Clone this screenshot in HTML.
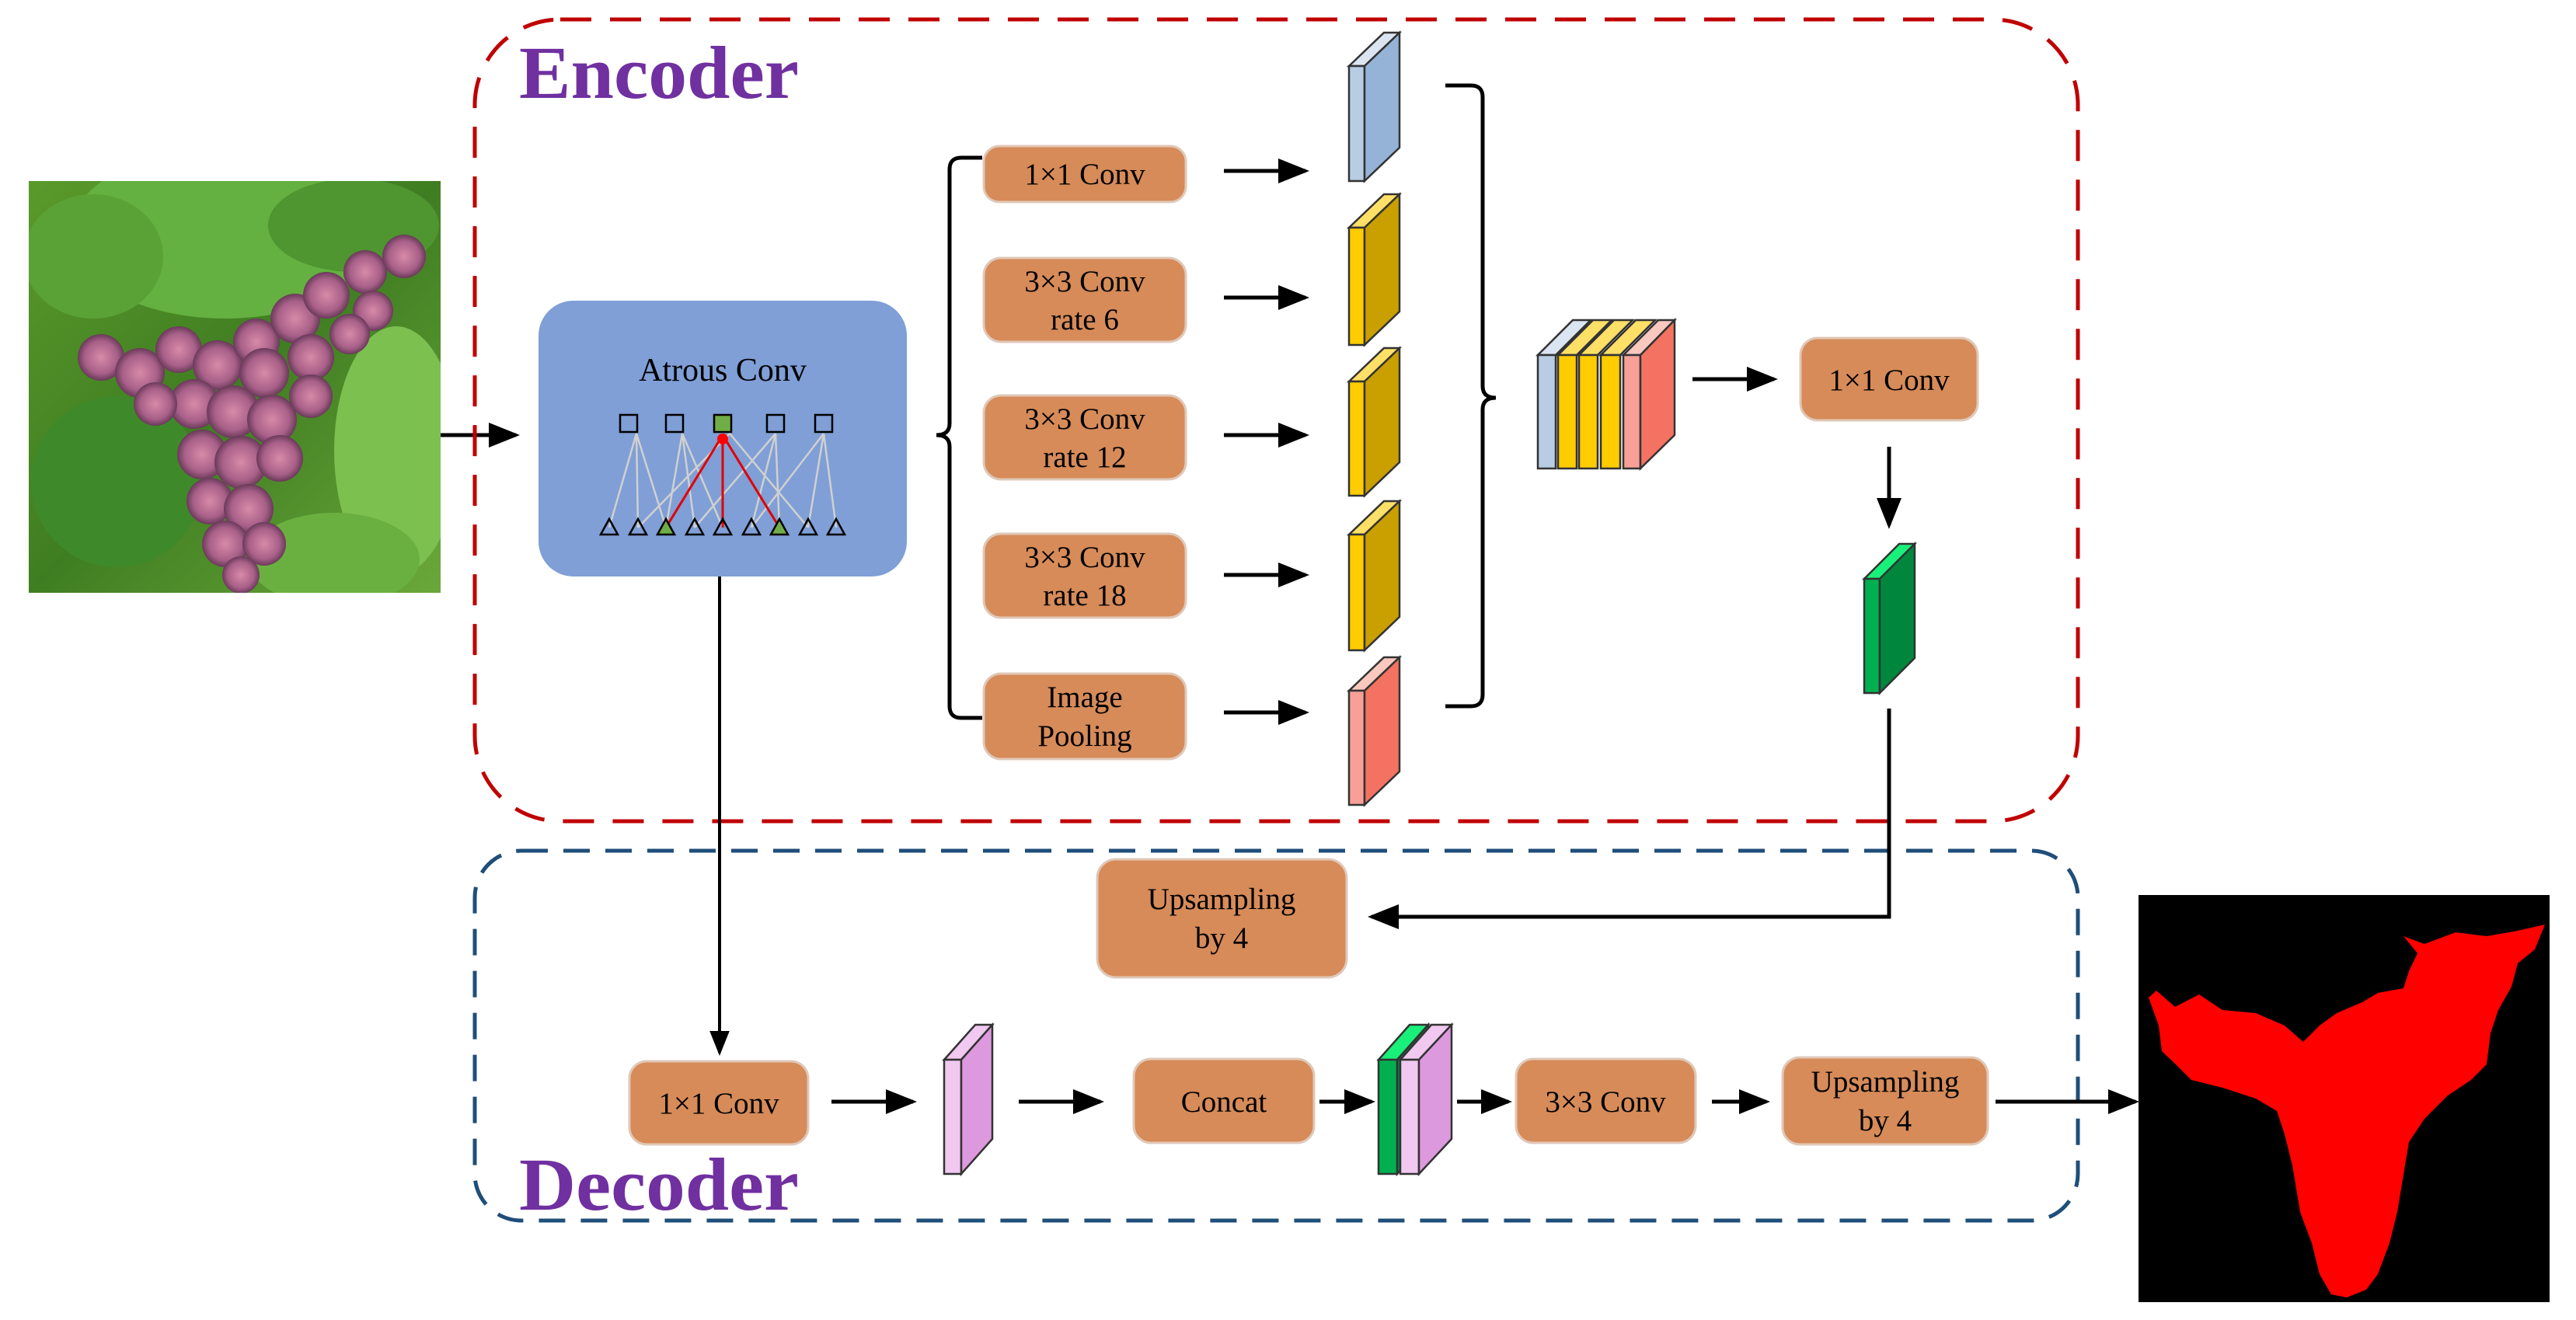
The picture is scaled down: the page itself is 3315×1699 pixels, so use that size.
<!DOCTYPE html>
<html><head><meta charset="utf-8"><style>html,body{margin:0;padding:0;background:#fff}svg{display:block}</style></head><body>
<svg width="3315" height="1699" viewBox="0 0 3315 1699" xmlns="http://www.w3.org/2000/svg" font-family="'Liberation Serif', serif">
<defs>
<marker id="ah" markerWidth="8" markerHeight="8" refX="7" refY="4" orient="auto" markerUnits="strokeWidth"><path d="M0,0.8 L8,4 L0,7.2 Z" fill="#000"/></marker>
<linearGradient id="bg" x1="0" y1="0" x2="1" y2="1"><stop offset="0" stop-color="#5a9a2a"/><stop offset="0.5" stop-color="#3f7d22"/><stop offset="1" stop-color="#6aa83a"/></linearGradient>
<radialGradient id="gr"><stop offset="0" stop-color="#d88aa8"/><stop offset="0.7" stop-color="#a86088"/><stop offset="1" stop-color="#6a3a5a"/></radialGradient>
<clipPath id="cp"><rect x="37" y="233" width="530" height="530"/></clipPath>
</defs>
<!-- input image -->
<g clip-path="url(#cp)">
<rect x="37" y="233" width="530" height="530" fill="url(#bg)"/>
<ellipse cx="290" cy="300" rx="200" ry="110" fill="#64b040"/>
<ellipse cx="120" cy="330" rx="90" ry="80" fill="#5ba236"/>
<ellipse cx="150" cy="620" rx="110" ry="110" fill="#3e8a2a"/>
<ellipse cx="510" cy="580" rx="80" ry="160" fill="#7cc050"/>
<ellipse cx="430" cy="720" rx="110" ry="60" fill="#6ab040"/>
<ellipse cx="455" cy="290" rx="110" ry="60" fill="#4f9530"/>
<g fill="url(#gr)">
<circle cx="130" cy="460" r="30"/><circle cx="180" cy="480" r="32"/><circle cx="230" cy="450" r="30"/><circle cx="280" cy="470" r="32"/>
<circle cx="330" cy="440" r="30"/><circle cx="380" cy="410" r="32"/><circle cx="420" cy="380" r="30"/><circle cx="470" cy="350" r="28"/><circle cx="520" cy="330" r="28"/>
<circle cx="340" cy="480" r="32"/><circle cx="400" cy="460" r="30"/><circle cx="250" cy="520" r="32"/><circle cx="300" cy="530" r="34"/><circle cx="350" cy="540" r="32"/>
<circle cx="400" cy="510" r="28"/><circle cx="260" cy="585" r="32"/><circle cx="310" cy="595" r="34"/><circle cx="360" cy="590" r="30"/>
<circle cx="270" cy="645" r="30"/><circle cx="320" cy="655" r="32"/><circle cx="290" cy="700" r="30"/><circle cx="340" cy="700" r="28"/><circle cx="310" cy="740" r="24"/>
<circle cx="480" cy="400" r="26"/><circle cx="450" cy="430" r="26"/><circle cx="200" cy="520" r="28"/>
</g>
</g>
<path d="M567,560 H664" stroke="#000" stroke-width="5" marker-end="url(#ah)"/>
<!-- encoder / decoder frames -->
<rect x="611" y="25" width="2063" height="1032" rx="110" fill="none" stroke="#c00000" stroke-width="5" stroke-dasharray="40 24"/>
<rect x="611" y="1095" width="2063" height="476" rx="60" fill="none" stroke="#1f4e79" stroke-width="5" stroke-dasharray="34 20"/>
<text x="668" y="126" font-size="96" font-weight="bold" fill="#7030a0" textLength="360" lengthAdjust="spacingAndGlyphs">Encoder</text>
<text x="668" y="1557" font-size="96" font-weight="bold" fill="#7030a0" textLength="360" lengthAdjust="spacingAndGlyphs">Decoder</text>
<!-- atrous -->
<rect x="693" y="387" width="474" height="355" rx="45" fill="#7f9fd6"/>
<text x="930" y="490" font-size="42" text-anchor="middle">Atrous Conv</text>
<g stroke="#d0d0d0" stroke-width="2.5">
<path d="M784,679 L819,558 M821,679 L819,558 M857,679 L878,558 M894,679 L878,558 M930,679 L878,558 M967,679 L998,558 M894,679 L998,558 M1003,679 L998,558 M1040,679 L1060,558 M1076,679 L1060,558 M967,679 L1060,558 M821,679 L939,558 M1040,679 L939,558 M857,679 L819,558"/>
</g>
<g stroke="#e00000" stroke-width="3"><path d="M857,679 L930,560 M930,679 L930,560 M1003,679 L930,560"/></g>
<circle cx="930" cy="565" r="7" fill="red"/>
<g fill="none" stroke="#000" stroke-width="2.5">
<rect x="798" y="534" width="22" height="22"/><rect x="857" y="534" width="22" height="22"/><rect x="987" y="534" width="22" height="22"/><rect x="1049" y="534" width="22" height="22"/>
</g>
<rect x="919" y="534" width="22" height="22" fill="#70ad47" stroke="#000" stroke-width="2.5"/>
<g stroke="#000" stroke-width="2.5" fill="none">
<path d="M784,668 l-11,20 h22z M821,668 l-11,20 h22z M894,668 l-11,20 h22z M930,668 l-11,20 h22z M967,668 l-11,20 h22z M1040,668 l-11,20 h22z M1076,668 l-11,20 h22z"/>
<path d="M857,668 l-11,20 h22z M1003,668 l-11,20 h22z" fill="#70ad47"/>
</g>
<!-- brace left -->
<path d="M1264,203 H1237 Q1222,203 1222,218 V545 Q1222,560 1205,560 Q1222,560 1222,575 V909 Q1222,924 1237,924 H1264" fill="none" stroke="#000" stroke-width="5"/>
<!-- orange boxes -->
<g fill="#d68b59" stroke="#e0c8b8" stroke-width="3">
<rect x="1266" y="188" width="260" height="72" rx="20"/>
<rect x="1266" y="332" width="260" height="108" rx="22"/>
<rect x="1266" y="509" width="260" height="108" rx="22"/>
<rect x="1266" y="687" width="260" height="108" rx="22"/>
<rect x="1266" y="867" width="260" height="110" rx="22"/>
<rect x="2317" y="435" width="228" height="106" rx="22"/>
<rect x="1412" y="1106" width="321" height="152" rx="24"/>
<rect x="810" y="1366" width="230" height="107" rx="22"/>
<rect x="1459" y="1363" width="232" height="108" rx="22"/>
<rect x="1951" y="1363" width="231" height="108" rx="22"/>
<rect x="2294" y="1361" width="264" height="112" rx="22"/>
</g>
<g font-size="39" text-anchor="middle" fill="#000">
<text x="1396" y="237">1×1 Conv</text>
<text x="1396" y="375">3×3 Conv</text><text x="1396" y="424">rate 6</text>
<text x="1396" y="552">3×3 Conv</text><text x="1396" y="601">rate 12</text>
<text x="1396" y="730">3×3 Conv</text><text x="1396" y="779">rate 18</text>
<text x="1396" y="910">Image</text><text x="1396" y="960">Pooling</text>
<text x="2431" y="502">1×1 Conv</text>
<text x="1572" y="1170">Upsampling</text><text x="1572" y="1220">by 4</text>
<text x="925" y="1433">1×1 Conv</text>
<text x="1575" y="1431">Concat</text>
<text x="2066" y="1431">3×3 Conv</text>
<text x="2426" y="1405">Upsampling</text><text x="2426" y="1455">by 4</text>
</g>
<!-- arrows -->
<g stroke="#000" stroke-width="5" fill="none" marker-end="url(#ah)">
<path d="M1575,220 H1680"/><path d="M1575,383 H1680"/><path d="M1575,560 H1680"/><path d="M1575,740 H1680"/><path d="M1575,917 H1680"/>
<path d="M2178,488 H2283"/><path d="M2431,575 V676"/>
<path d="M2431,912 V1180 H1765"/>
<path d="M926,742 V1355" stroke-width="4"/>
<path d="M1070,1418 H1175"/><path d="M1311,1418 H1416"/><path d="M1698,1418 H1765"/><path d="M1875,1418 H1941"/><path d="M2203,1418 H2273"/><path d="M2568,1418 H2748"/>
</g>
<!-- feature blocks -->
<g stroke="#333" stroke-width="2.5">
<polygon points="1736,85 1781,42 1801,42 1756,85" fill="#dbe5f1"/><rect x="1736" y="85" width="20" height="148" fill="#b8cce4"/><polygon points="1756,85 1801,42 1801,190 1756,233" fill="#95b3d7"/>
<polygon points="1736,293 1781,250 1801,250 1756,293" fill="#ffe066"/><rect x="1736" y="293" width="20" height="151" fill="#ffcc00"/><polygon points="1756,293 1801,250 1801,401 1756,444" fill="#c9a000"/>
<polygon points="1736,491 1781,448 1801,448 1756,491" fill="#ffe066"/><rect x="1736" y="491" width="20" height="147" fill="#ffcc00"/><polygon points="1756,491 1801,448 1801,595 1756,638" fill="#c9a000"/>
<polygon points="1736,688 1781,645 1801,645 1756,688" fill="#ffe066"/><rect x="1736" y="688" width="20" height="149" fill="#ffcc00"/><polygon points="1756,688 1801,645 1801,794 1756,837" fill="#c9a000"/>
<polygon points="1736,889 1781,846 1801,846 1756,889" fill="#fbc8c0"/><rect x="1736" y="889" width="20" height="147" fill="#f8a097"/><polygon points="1756,889 1801,846 1801,993 1756,1036" fill="#f47261"/>
<polygon points="1979,457 2024,412 2047,412 2002,457" fill="#dbe5f1"/><rect x="1979" y="457" width="23" height="146" fill="#b8cce4"/>
<polygon points="2005,457 2050,412 2074,412 2029,457" fill="#ffe066"/><rect x="2005" y="457" width="24" height="146" fill="#ffcc00"/>
<polygon points="2032,457 2077,412 2101,412 2056,457" fill="#ffe066"/><rect x="2032" y="457" width="24" height="146" fill="#ffcc00"/>
<polygon points="2060,457 2105,412 2130,412 2085,457" fill="#ffe066"/><rect x="2060" y="457" width="25" height="146" fill="#ffcc00"/>
<polygon points="2089,457 2134,412 2155,412 2111,457" fill="#fbc8c0"/><rect x="2089" y="457" width="22" height="146" fill="#f8a097"/>
<polygon points="2111,457 2155,412 2155,560 2111,603" fill="#f47261"/>
<polygon points="2399,745 2444,700 2464,700 2419,745" fill="#19f07a"/><rect x="2399" y="745" width="20" height="147" fill="#00b050"/><polygon points="2419,745 2464,700 2464,847 2419,892" fill="#00873d"/>
<polygon points="1215,1364 1255,1319 1277,1319 1237,1364" fill="#f0c8f0"/><rect x="1215" y="1364" width="22" height="147" fill="#f0c8f0"/><polygon points="1237,1364 1277,1319 1277,1466 1237,1511" fill="#dd99dd"/>
<polygon points="1774,1364 1814,1319 1838,1319 1798,1364" fill="#19f07a"/><rect x="1774" y="1364" width="24" height="147" fill="#00b050"/><polygon points="1798,1364 1838,1319 1838,1466 1798,1511" fill="#00873d"/>
<polygon points="1802,1364 1842,1319 1868,1319 1826,1364" fill="#f0c8f0"/><rect x="1802" y="1364" width="24" height="147" fill="#f0c8f0"/><polygon points="1826,1364 1868,1319 1868,1466 1826,1511" fill="#dd99dd"/>
</g>
<!-- brace right -->
<path d="M1860,110 H1893 Q1908,110 1908,125 V497 Q1908,512 1925,512 Q1908,512 1908,527 V894 Q1908,909 1893,909 H1860" fill="none" stroke="#000" stroke-width="5"/>
<!-- output mask -->
<rect x="2752" y="1152" width="529" height="524" fill="#000"/>
<polygon fill="#ff0000" points="3275,1190 3262,1222 3240,1240 3232,1270 3215,1300 3205,1330 3200,1370 3180,1390 3150,1410 3120,1440 3100,1470 3095,1500 3085,1560 3075,1600 3060,1640 3045,1660 3020,1670 3000,1666 2985,1640 2975,1600 2960,1560 2950,1500 2940,1460 2930,1430 2903,1414 2860,1400 2820,1390 2800,1370 2782,1353 2778,1320 2765,1284 2775,1275 2799,1296 2830,1280 2860,1300 2903,1304 2940,1320 2964,1341 2985,1320 3007,1304 3040,1290 3060,1278 3093,1272 3100,1250 3111,1227 3093,1205 3120,1215 3160,1200 3200,1205 3240,1198"/>
</svg>
</body></html>
